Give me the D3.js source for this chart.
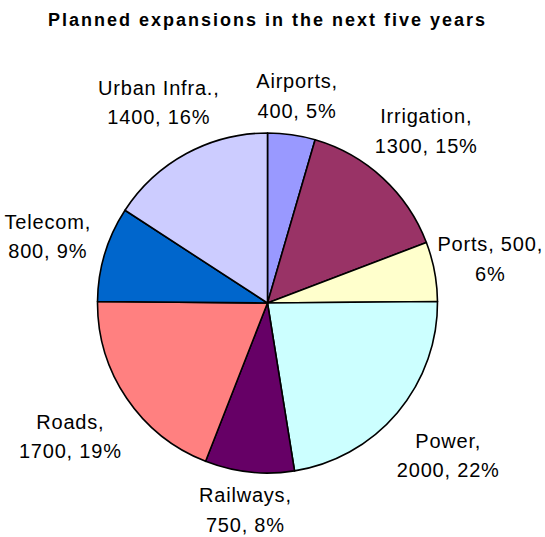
<!DOCTYPE html>
<html>
<head>
<meta charset="utf-8">
<script src="https://cdn.jsdelivr.net/npm/d3@7"></script>
<style>
  body { margin: 0; background: #fff; }
  svg { display: block; font-family: "Liberation Sans", Arial, sans-serif; }
</style>
</head>
<body>
<svg width="545" height="537"></svg>
<script>
// data
const categories = ["Airports", "Irrigation", "Ports", "Power", "Railways", "Roads", "Telecom", "Urban Infra."];
const values = [400, 1300, 500, 2000, 750, 1700, 800, 1400];
const shares = [5, 15, 6, 22, 8, 19, 9, 16];
const colors = ["#9999FF", "#993366", "#FFFFCC", "#CCFFFF", "#660066", "#FF8080", "#0066CC", "#CCCCFF"];
// how many label parts go on the first line
const breakAfter = [1, 1, 2, 1, 1, 1, 1, 1];

const width = 545, height = 537;
const cx = 267.5, cy = 303, radius = 170;
const gap = 11; // space between pie edge and label box

const svg = d3.select("svg");

svg.append("text")
    .attr("x", cx)
    .attr("y", 26)
    .attr("text-anchor", "middle")
    .attr("font-weight", "bold")
    .attr("font-size", 18)
    .attr("letter-spacing", 2)
    .text("Planned expansions in the next five years");

const pie = d3.pie().sort(null).value(d => d.value);
const arcs = pie(categories.map((c, i) => ({ name: c, value: values[i], share: shares[i], i })));

const arc = d3.arc().innerRadius(0).outerRadius(radius);

const g = svg.append("g").attr("transform", `translate(${cx},${cy})`);

g.selectAll("path")
  .data(arcs)
  .enter()
  .append("path")
    .attr("d", arc)
    .attr("fill", d => colors[d.data.i])
    .attr("stroke", "#000")
    .attr("stroke-width", 1.6)
    .attr("stroke-linejoin", "round");

const lineH = 29.5;
const labels = g.selectAll("text.lbl")
  .data(arcs)
  .enter()
  .append("text")
    .attr("class", "lbl")
    .attr("text-anchor", "middle")
    .attr("font-size", 20)
    .attr("letter-spacing", 0.8)
    .attr("fill", "#000");

labels.each(function(d) {
  const parts = [d.data.name + ",", d.data.value + ",", d.data.share + "%"];
  const k = breakAfter[d.data.i];
  const lines = [parts.slice(0, k).join(" "), parts.slice(k).join(" ")];
  const t = d3.select(this);
  t.selectAll("tspan")
    .data(lines)
    .enter()
    .append("tspan")
      .attr("x", 0)
      .attr("y", (l, j) => j * lineH)
      .text(l => l);

  // push the label box outward along the slice's mid angle until it clears the pie
  const b = this.getBBox();
  const hw = b.width / 2, hh = b.height / 2;
  const a = (d.startAngle + d.endAngle) / 2;
  const ux = Math.sin(a), uy = -Math.cos(a);
  let s = 0, px = 0, py = 0;
  for (; s < 400; s += 0.5) {
    px = s * ux; py = s * uy;
    const nx = Math.max(px - hw, Math.min(0, px + hw));
    const ny = Math.max(py - hh, Math.min(0, py + hh));
    if (Math.hypot(nx, ny) >= radius + gap) break;
  }
  // keep inside the chart
  px = Math.max(2 + hw - cx, Math.min(width - 2 - hw - cx, px));
  t.attr("transform", `translate(${px - (b.x + hw)},${py - (b.y + hh)})`);
});
</script>
</body>
</html>
